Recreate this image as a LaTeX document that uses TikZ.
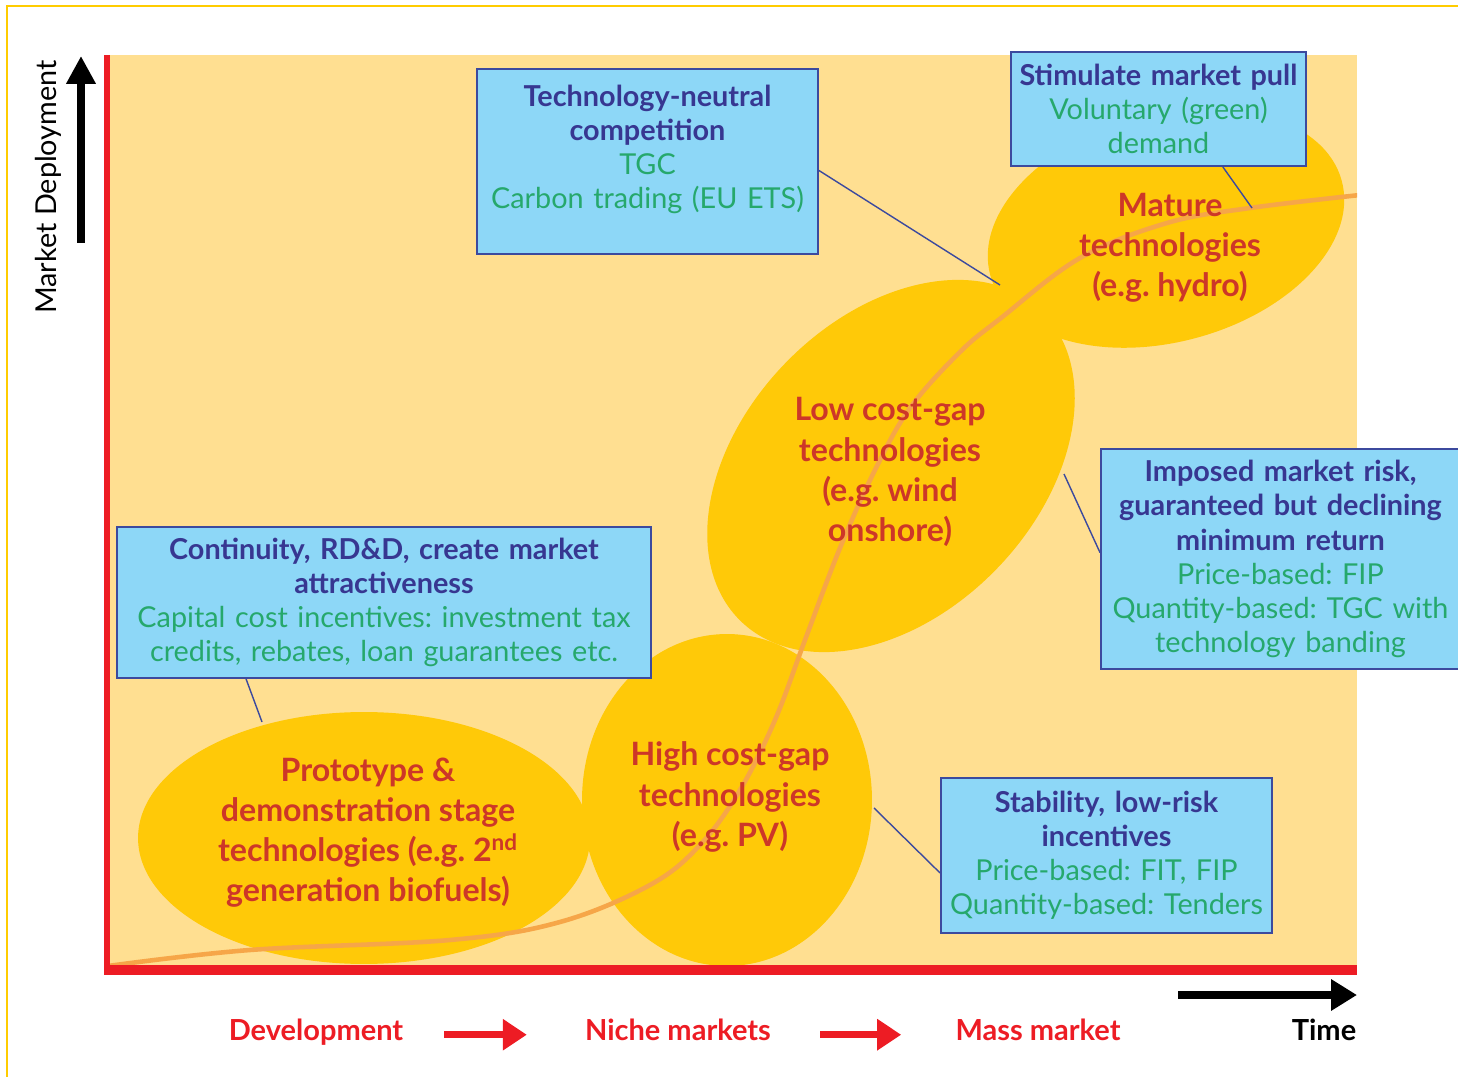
\documentclass[tikz,border=0pt]{standalone}
\usepackage{fontspec}
\setmainfont{Lato}
\frenchspacing
\usetikzlibrary{shapes.geometric,arrows.meta,positioning}

\definecolor{plotbg}{RGB}{255,223,145}
\definecolor{stagegold}{RGB}{255,201,8}
\definecolor{curveorange}{RGB}{246,166,72}
\definecolor{boxblue}{RGB}{141,215,247}
\definecolor{boxedge}{RGB}{60,74,158}
\definecolor{headblue}{RGB}{55,55,145}
\definecolor{policygreen}{RGB}{38,168,108}
\definecolor{stagered}{RGB}{205,55,40}
\definecolor{axisred}{RGB}{237,28,36}
\definecolor{framegold}{RGB}{255,204,0}

\newcommand{\polhead}[1]{{\color{headblue}\bfseries #1}}
\newcommand{\poltool}[1]{{\color{policygreen}#1}}

\tikzset{
  stage/.style={ellipse, fill=stagegold, inner sep=0pt, outer sep=0pt},
  stagetext/.style={text=stagered, font=\fontsize{18.3}{22.8}\selectfont\bfseries, align=center, inner sep=0pt},
  policy/.style={rectangle, draw=boxedge, line width=1.1pt, fill=boxblue, align=center,
    font=\fontsize{16.4}{19.4}\selectfont, inner sep=0pt},
  callout/.style={draw=boxedge, line width=0.8pt},
  growth/.style={draw=curveorange, line width=2.6pt},
  phase/.style={text=axisred, font=\fontsize{16.5}{19}\selectfont\bfseries, inner sep=0pt,
    text height=0.75em, text depth=0.15em},
  phasearrow/.style={draw=axisred, line width=4pt, -{Triangle[length=0.48cm, width=0.6cm]}},
  axisarrow/.style={draw=black, line width=4pt, -{Triangle[length=0.56cm, width=0.56cm]}},
}

\begin{document}
\begin{tikzpicture}[x=0.02cm, y=-0.02cm]
    \useasboundingbox (0,0) rectangle (1458,1077);

    % Frame and plot area
    \draw[framegold, line width=1.4pt] (7,1090) -- (7,6) -- (1470,6);
    \fill[plotbg] (107,55) rectangle (1357,970);

    % Stages
    \begin{scope}
        \clip (107,55) rectangle (1357,968);
        \node (demo) [stage, minimum width=9.04cm, minimum height=5.04cm] at (364,838) {};
        \node (highgap) [stage, minimum width=5.8cm, minimum height=6.64cm] at (727,800) {};
        \node (lowgap) [stage, minimum width=8.64cm, minimum height=5.9cm, rotate=46] at (891,466) {};
        \node (mature) [stage, minimum width=7.28cm, minimum height=4.56cm, rotate=15] at (1166,228) {};

        % S-curve
        \draw[growth] plot[smooth, tension=0.6] coordinates {
            (108,966) (250,950) (450,940) (560,922) (650,885) (700,845) (740,790)
            (775,720) (805,640) (840,548) (875,470) (910,408) (960,352) (1001,318)
            (1080,258) (1167,223) (1250,208) (1360,195)};
    \end{scope}

    \node (demotext) [stagetext] at (368,833) {Prototype \&\\demonstration stage\\technologies (e.g. 2\textsuperscript{nd}\\generation biofuels)};
    \node (hightext) [stagetext] at (730,797) {High cost-gap\\technologies\\(e.g. PV)};
    \node (lowtext) [stagetext] at (890,472) {Low cost-gap\\technologies\\(e.g. wind\\onshore)};
    \node (maturetext) [stagetext] at (1170,248) {Mature\\technologies\\(e.g. hydro)};

    % Policy boxes
    \node (tgc) [policy, text width=6.82cm, minimum height=3.7cm] at (647.5,161.5)
        {\polhead{Technology-neutral\\competition}\\\poltool{TGC\\Carbon trading (EU ETS)\rule[-0.6cm]{0pt}{0pt}}};
    \node (pull) [policy, text width=5.9cm, minimum height=2.28cm] at (1158.5,109)
        {\polhead{Stimulate market pull}\\\poltool{Voluntary (green)\\demand}};
    \node (risk) [policy, text width=7.18cm, minimum height=4.4cm] at (1280.5,559)
        {\polhead{Imposed market risk,\\guaranteed but declining\\minimum return}\\\poltool{Price-based: FIP\\Quantity-based: TGC with\\technology banding}};
    \node (capex) [policy, text width=10.68cm, minimum height=3.02cm] at (384,602.5)
        {\polhead{Continuity, RD\&D, create market\\attractiveness}\\\poltool{Capital cost incentives: investment tax\\credits, rebates, loan guarantees etc.}};
    \node (stab) [policy, text width=6.62cm, minimum height=3.1cm] at (1106.5,855.5)
        {\polhead{Stability, low-risk\\incentives}\\\poltool{Price-based: FIT, FIP\\Quantity-based: Tenders}};

    % Callouts
    \coordinate (tgcend) at (1000,285);
    \coordinate (pullend) at (1252,208);
    \coordinate (riskend) at (1064,474);
    \coordinate (capexend) at (262,722);
    \coordinate (stabend) at (874,808);
    \draw[callout] (tgc.-3.5) -- (tgcend);
    \draw[callout] (pull.-42) -- (pullend);
    \draw[callout] (risk.178) -- (riskend);
    \draw[callout] (capex.-151) -- (capexend);
    \draw[callout] (stab.-174) -- (stabend);

    % Axes
    \draw[axisred, line width=3.4pt] (107,55) -- (107,975);
    \draw[axisred, line width=5.7pt] (104,970) -- (1357,970);

    \coordinate (ybottom) at (81,243);
    \coordinate (ytop) at (81,56);
    \draw[axisarrow] (ybottom) -- (ytop);
    \node (ylabel) [rotate=90, font=\fontsize{16.4}{18}\selectfont] at (48,187) {Market Deployment};

    \coordinate (tstart) at (1178,995);
    \coordinate (tend) at (1357,995);
    \draw[axisarrow, line width=5pt, -{Triangle[length=0.52cm, width=0.6cm]}] (tstart) -- (tend);

    % Labels
    \node (dev) [phase, anchor=base] at (316,1040) {Development};
    \node (niche) [phase, anchor=base] at (678,1040) {Niche markets};
    \node (mass) [phase, anchor=base] at (1038,1040) {Mass market};
    \node (time) [phase, anchor=base, text=black] at (1324,1040) {Time};

    \draw[phasearrow, shorten <=0.82cm, shorten >=1.16cm] (dev) -- (niche);
    \draw[phasearrow, shorten <=0.98cm, shorten >=1.08cm] (niche) -- (mass);
\end{tikzpicture}
\end{document}
